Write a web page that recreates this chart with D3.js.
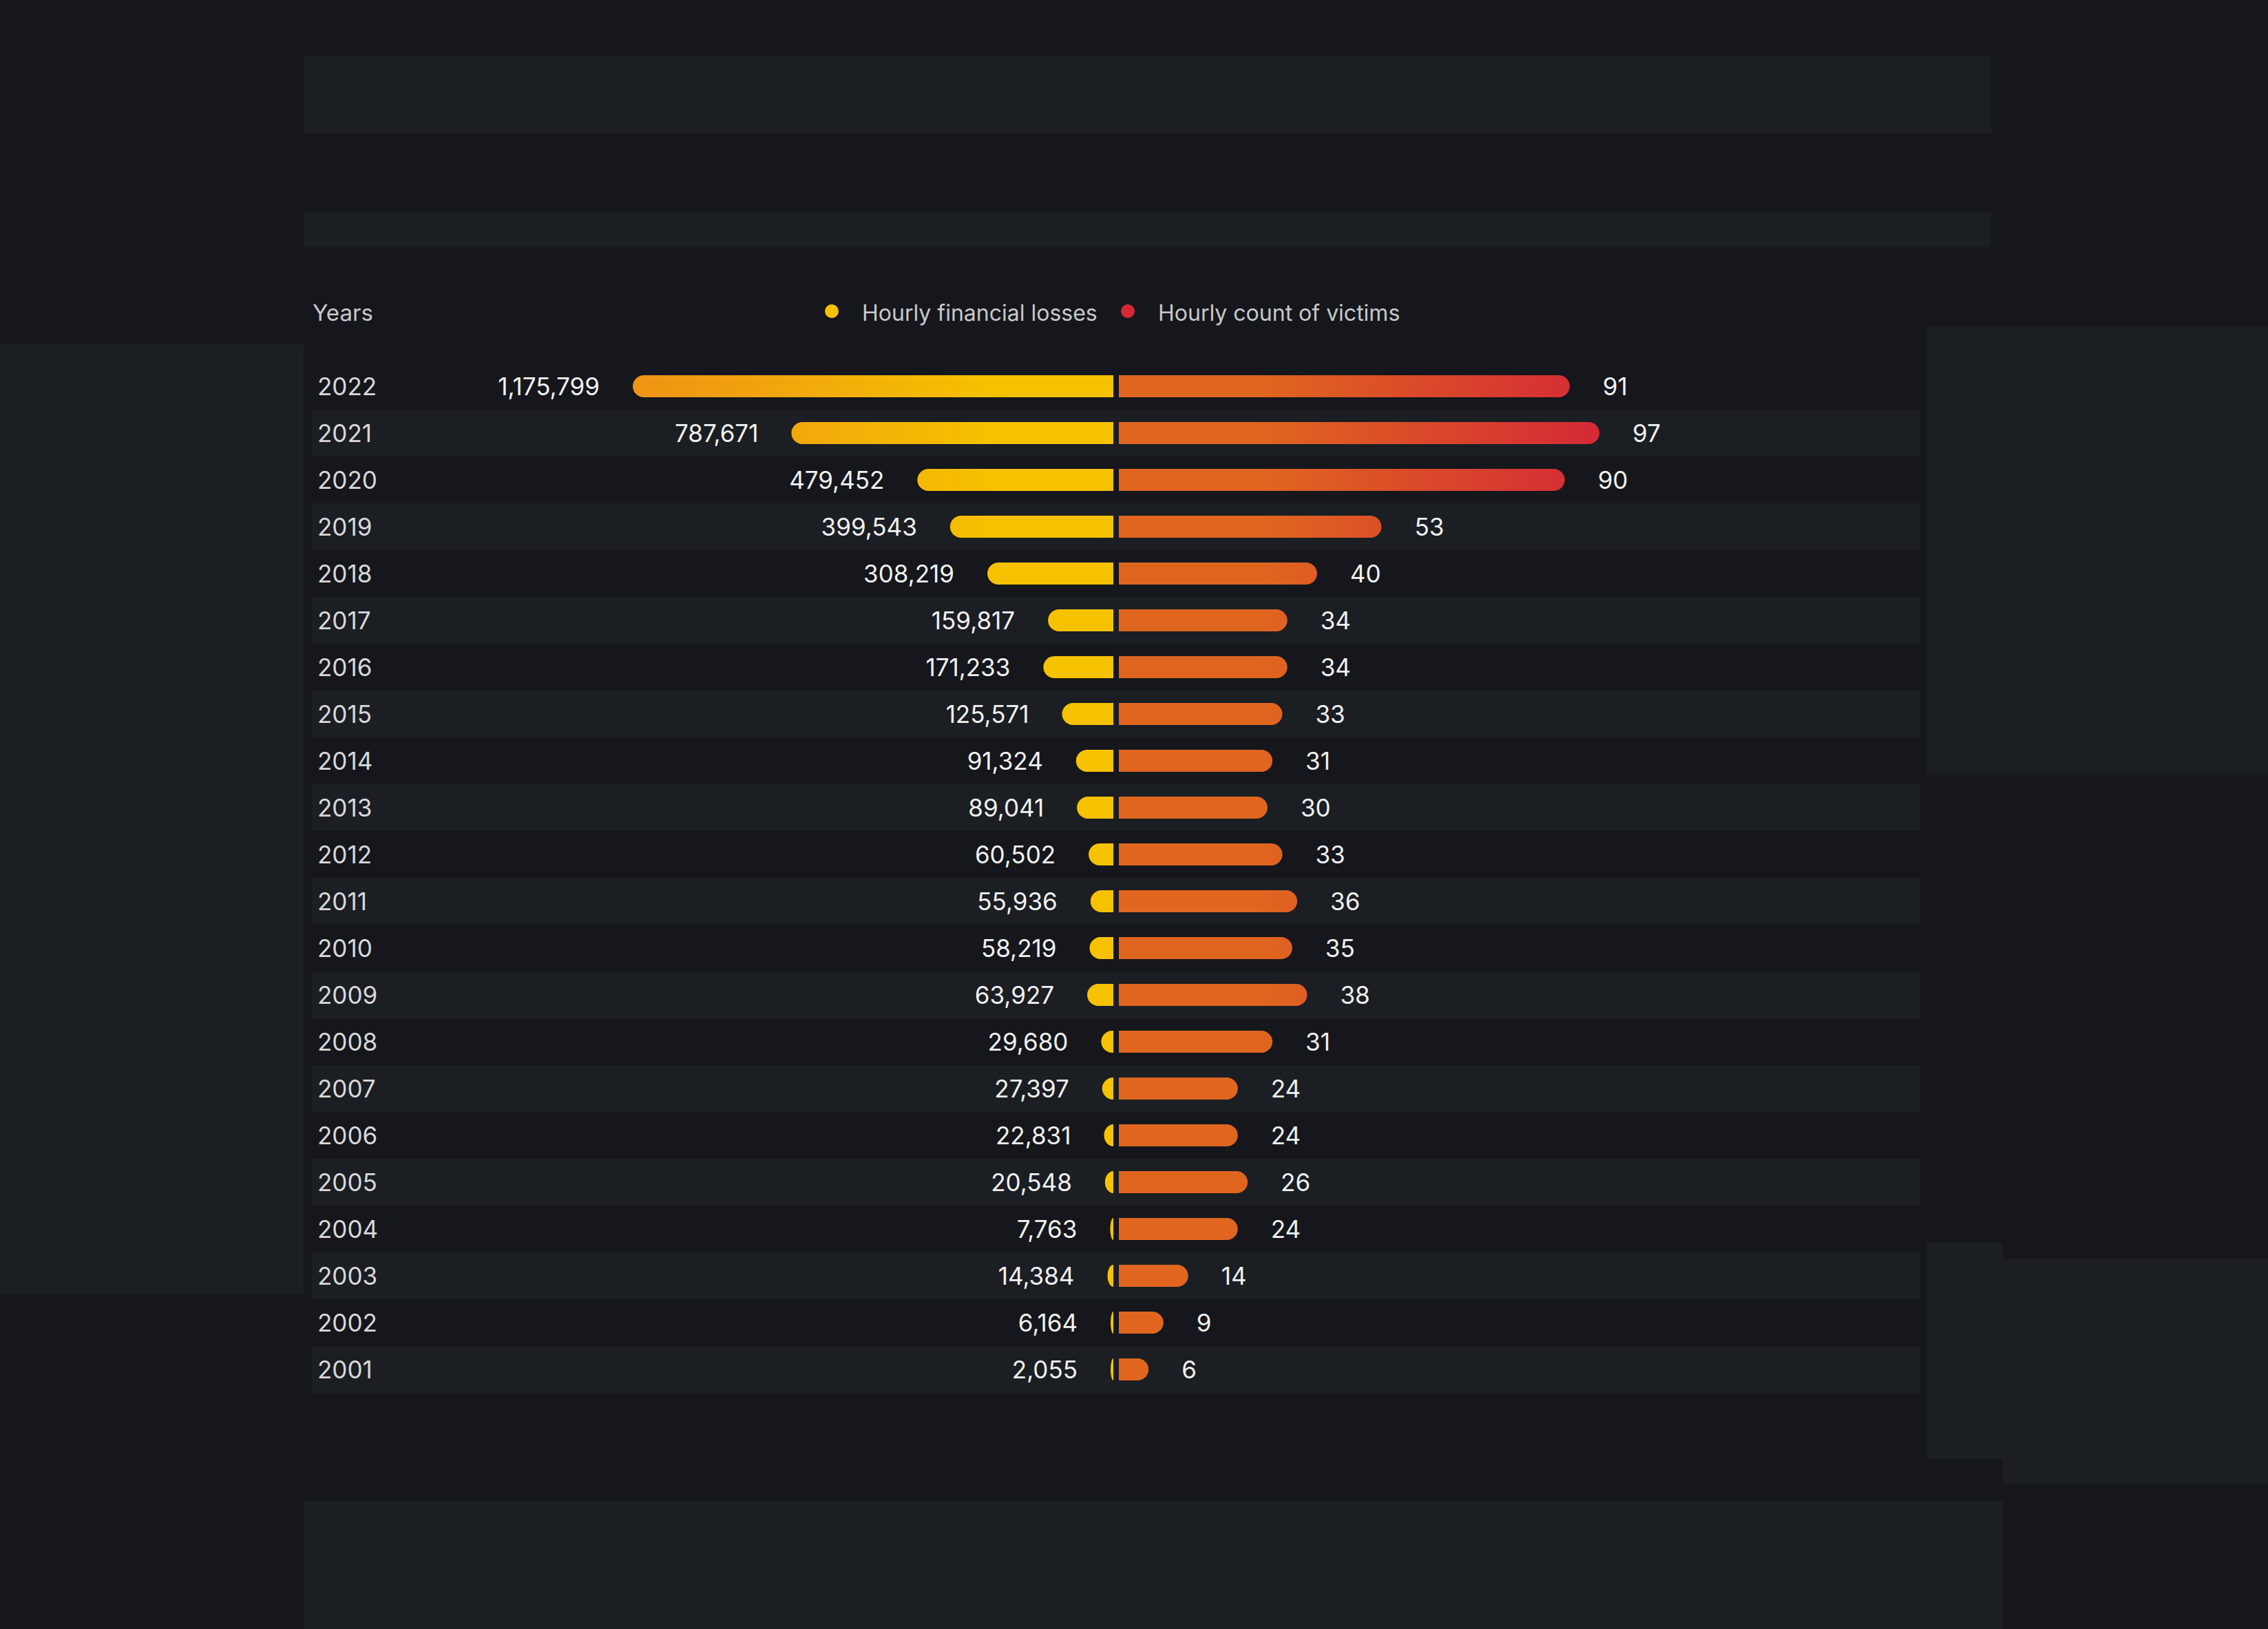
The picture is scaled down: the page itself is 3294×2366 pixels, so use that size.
<!DOCTYPE html>
<html lang="en">
<head>
<meta charset="UTF-8">
<title>Hourly losses and victims</title>
<style>
  body { margin: 0; background: #15171c; }
  svg text { font-family: 'Inter', 'Lato', sans-serif; }
</style>
<script src="https://d3js.org/d3.v7.min.js"></script>
</head>
<body>
<svg width="3294" height="2366"></svg>
<script>
const years = ["2022","2021","2020","2019","2018","2017","2016","2015","2014","2013","2012","2011","2010","2009","2008","2007","2006","2005","2004","2003","2002","2001"];
const losses = [1175799,787671,479452,399543,308219,159817,171233,125571,91324,89041,60502,55936,58219,63927,29680,27397,22831,20548,7763,14384,6164,2055];
const victims = [91,97,90,53,40,34,34,33,31,30,33,36,35,38,31,24,24,26,24,14,9,6];

const svg = d3.select("svg");
const center = 1621;

// background panels
const panels = [
  [441, 82, 2451, 112], [441, 307, 2451, 52], [0, 500, 441, 1380],
  [441, 2180, 2468, 186], [2798, 474, 496, 652], [2798, 1804, 111, 314], [2909, 1828, 385, 328]
];
svg.selectAll("rect.panel").data(panels).enter().append("rect")
  .attr("x", d => d[0]).attr("y", d => d[1]).attr("width", d => d[2]).attr("height", d => d[3])
  .attr("fill", "#1b1e23");

const y = d3.scaleBand().domain(years).range([527, 527 + 68 * years.length]);
const xl = d3.scaleLinear().domain([0, 1175799]).range([0, 698]);
const xr = d3.scaleLinear().domain([0, 97]).range([0, 698]);

const defs = svg.append("defs");
const gl = defs.append("linearGradient").attr("id", "gl").attr("gradientUnits", "userSpaceOnUse")
  .attr("x1", center).attr("x2", center - 698).attr("y1", 0).attr("y2", 0);
gl.append("stop").attr("offset", "0.25").attr("stop-color", "#f6c200");
gl.append("stop").attr("offset", "1").attr("stop-color", "#ee9414");
const gr = defs.append("linearGradient").attr("id", "gr").attr("gradientUnits", "userSpaceOnUse")
  .attr("x1", center).attr("x2", center + 700).attr("y1", 0).attr("y2", 0);
gr.append("stop").attr("offset", "0.3").attr("stop-color", "#e0661f");
gr.append("stop").attr("offset", "1").attr("stop-color", "#d42a36");

// row stripes
svg.selectAll("rect.band").data(years.filter((d, i) => i % 2 === 1)).enter().append("rect")
  .attr("x", 453).attr("y", d => y(d)).attr("width", 2336).attr("height", y.bandwidth())
  .attr("fill", "#1b1e23");

const bh = 32, r = 16;
function roundBar(x0, len, dir) {
  const rr = Math.min(r, len);
  const xs = x0 + dir * len - dir * rr;
  const sweep = dir > 0 ? 1 : 0;
  return `M${x0},${-bh/2} L${xs},${-bh/2} A${rr},${r} 0 0 ${sweep} ${xs},${bh/2} L${x0},${bh/2} Z`;
}

const rows = svg.selectAll("g.row").data(years).enter().append("g")
  .attr("transform", d => `translate(0,${y(d) + y.bandwidth() / 2})`);

rows.append("text").attr("x", 461).attr("dy", "0.36em")
  .attr("fill", "#d8d8da").style("font-size", "35px").text(d => d);

rows.append("path")
  .attr("d", (d, i) => roundBar(center - 4, Math.max(4, xl(losses[i])), -1))
  .attr("fill", "url(#gl)");
rows.append("path")
  .attr("d", (d, i) => roundBar(center + 4, xr(victims[i]), 1))
  .attr("fill", "url(#gr)");

rows.append("text")
  .attr("x", (d, i) => center - 4 - Math.max(4, xl(losses[i])) - 48)
  .attr("dy", "0.36em").attr("text-anchor", "end")
  .attr("fill", "#f2f2f2").style("font-size", "35px")
  .text((d, i) => d3.format(",")(losses[i]));
rows.append("text")
  .attr("x", (d, i) => center + 4 + xr(victims[i]) + 48)
  .attr("dy", "0.36em")
  .attr("fill", "#f2f2f2").style("font-size", "35px")
  .text((d, i) => victims[i]);

// header
svg.append("text").attr("x", 454).attr("y", 454).attr("dy", "0.36em")
  .attr("fill", "#c8c8ca").style("font-size", "33px").text("Years");
const legend = [["Hourly financial losses", "#f6c200", 1208], ["Hourly count of victims", "#d42a36", 1638]];
legend.forEach(l => {
  svg.append("circle").attr("cx", l[2]).attr("cy", 452).attr("r", 10).attr("fill", l[1]);
  svg.append("text").attr("x", l[2] + 44).attr("y", 454).attr("dy", "0.36em")
    .attr("fill", "#c8c8ca").style("font-size", "32px").text(l[0]);
});
</script>
</body>
</html>
